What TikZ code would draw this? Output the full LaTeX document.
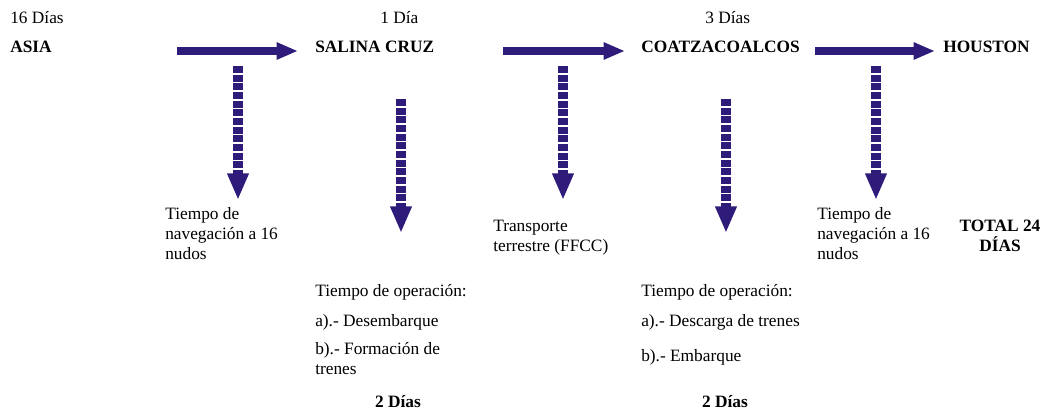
\documentclass[tikz,border=0pt]{standalone}
\usepackage{fontspec}
\setmainfont{Liberation Serif}
\usetikzlibrary{arrows.meta}
\definecolor{shipblue}{RGB}{46,27,122}
\tikzset{
  txt/.style={inner sep=0pt, anchor=base west, font=\fontsize{13}{15}\selectfont},
  boldtxt/.style={txt, font=\fontsize{13}{15}\selectfont\bfseries},
  blocktxt/.style={inner sep=0pt, anchor=north west, align=left, font=\fontsize{13}{15}\selectfont},
  hrarrow/.style={draw=shipblue, line width=6pt, -{Triangle[length=16pt,width=12pt]}},
  vrarrow/.style={draw=shipblue, line width=7.5pt, dash pattern=on 5.2pt off 1.3pt,
                  -{Triangle[length=20pt,width=15pt]}},
}
\begin{document}
\begin{tikzpicture}[x=0.75pt,y=-0.75pt]
    \useasboundingbox (0,0) rectangle (1051,411);

    % Days on top
    \node [txt] (d16) at (10,23) {16 Días};
    \node [txt] (d1) at (380,23) {1 Día};
    \node [txt] (d3) at (705,23) {3 Días};

    % Ports
    \node [boldtxt] (asia) at (10,52) {ASIA};
    \node [boldtxt] (salina) at (315,52) {SALINA CRUZ};
    \node [boldtxt] (coatza) at (641,52) {COATZACOALCOS};
    \node [boldtxt] (houston) at (943,52) {HOUSTON};

    % Horizontal arrows
    \coordinate (h1a) at (177,51); \coordinate (h1b) at (298,51);
    \coordinate (h2a) at (503,51); \coordinate (h2b) at (625,51);
    \coordinate (h3a) at (815,51); \coordinate (h3b) at (935,51);
    \draw [hrarrow] (h1a) -- (h1b);
    \draw [hrarrow] (h2a) -- (h2b);
    \draw [hrarrow] (h3a) -- (h3b);

    % Vertical arrows
    \coordinate (v1a) at (238,66); \coordinate (v1b) at (238,200);
    \coordinate (v2a) at (401,99); \coordinate (v2b) at (401,233);
    \coordinate (v3a) at (563,66); \coordinate (v3b) at (563,200);
    \coordinate (v4a) at (726,99); \coordinate (v4b) at (726,233);
    \coordinate (v5a) at (876,66); \coordinate (v5b) at (876,200);
    \draw [vrarrow] (v1a) -- (v1b);
    \draw [vrarrow] (v2a) -- (v2b);
    \draw [vrarrow] (v3a) -- (v3b);
    \draw [vrarrow] (v4a) -- (v4b);
    \draw [vrarrow] (v5a) -- (v5b);

    % Legs
    \node [blocktxt] (nav1) at (165,207) {Tiempo de\\navegación a 16\\nudos};
    \node [blocktxt] (land) at (493,220) {Transporte\\terrestre (FFCC)};
    \node [blocktxt] (nav2) at (817,207) {Tiempo de\\navegación a 16\\nudos};
    \node [blocktxt, align=center, anchor=north, font=\fontsize{13}{15}\selectfont\bfseries] (total) at (1000,220) {TOTAL 24\\DÍAS};

    % Operation at Salina Cruz
    \node [txt] (op1) at (315,296) {Tiempo de operación:};
    \node [txt] (op1a) at (315,326) {a).- Desembarque};
    \node [blocktxt] (op1b) at (315,342) {b).- Formación de\\trenes};
    \node [boldtxt, anchor=base] (op1d) at (398,407) {2 Días};

    % Operation at Coatzacoalcos
    \node [txt] (op2) at (641,296) {Tiempo de operación:};
    \node [txt] (op2a) at (641,326) {a).- Descarga de trenes};
    \node [txt] (op2b) at (641,361) {b).- Embarque};
    \node [boldtxt, anchor=base] (op2d) at (725,407) {2 Días};
\end{tikzpicture}
\end{document}
